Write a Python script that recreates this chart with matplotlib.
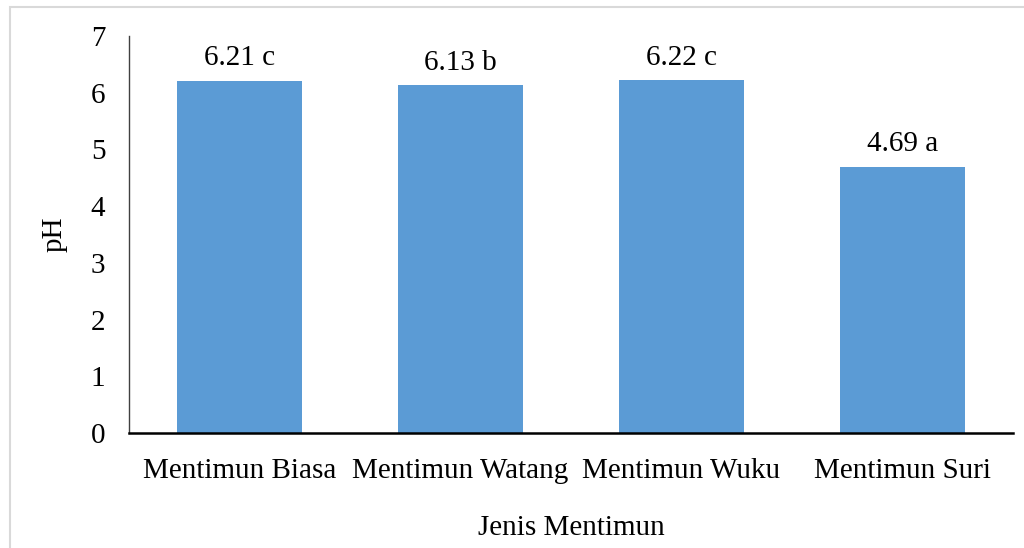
import matplotlib.pyplot as plt
from matplotlib.patches import Rectangle

categories = ['Mentimun Biasa', 'Mentimun Watang', 'Mentimun Wuku', 'Mentimun Suri']
ph_values = [6.21, 6.13, 6.22, 4.69]
letters = ['c', 'b', 'c', 'a']

plt.rcParams['font.family'] = ['Liberation Serif', 'DejaVu Serif']
fs = 21

fig = plt.figure(figsize=(10.24, 5.48), dpi=100)
ax = fig.add_axes([129 / 1024, 1 - 433 / 548, (1013 - 129) / 1024, (433 - 36) / 548])

x = range(len(categories))
ax.bar(x, ph_values, width=0.57, color='#5B9BD5')
for xi, v, l in zip(x, ph_values, letters):
    ax.annotate('%.2f %s' % (v, l), (xi, v), xytext=(0, 7), textcoords='offset points',
                ha='center', va='bottom', fontsize=fs)

ax.set_xlim(-0.5, len(categories) - 0.5)
ax.set_ylim(0, 7)
ax.set_yticks(range(0, 8))
ax.set_xticks(list(x))
ax.set_xticklabels(categories)
ax.tick_params(axis='both', length=0, labelsize=fs)
ax.tick_params(axis='y', pad=17)
ax.tick_params(axis='x', pad=18)

for s in ['top', 'right']:
    ax.spines[s].set_visible(False)
ax.spines['left'].set_color('#404040')
ax.spines['left'].set_linewidth(1.0)
ax.spines['bottom'].set_color('black')
ax.spines['bottom'].set_linewidth(1.8)

ax.set_ylabel('pH', fontsize=fs, labelpad=17)
ax.set_xlabel('Jenis Mentimun', fontsize=fs, labelpad=22)

fig.patches.append(Rectangle((9.5 / 1024, -0.1), 1.2, 1.1 - 7.5 / 548, transform=fig.transFigure,
                             fill=False, edgecolor='#d9d9d9', linewidth=1.5))

fig.savefig('out.png', dpi=100)
